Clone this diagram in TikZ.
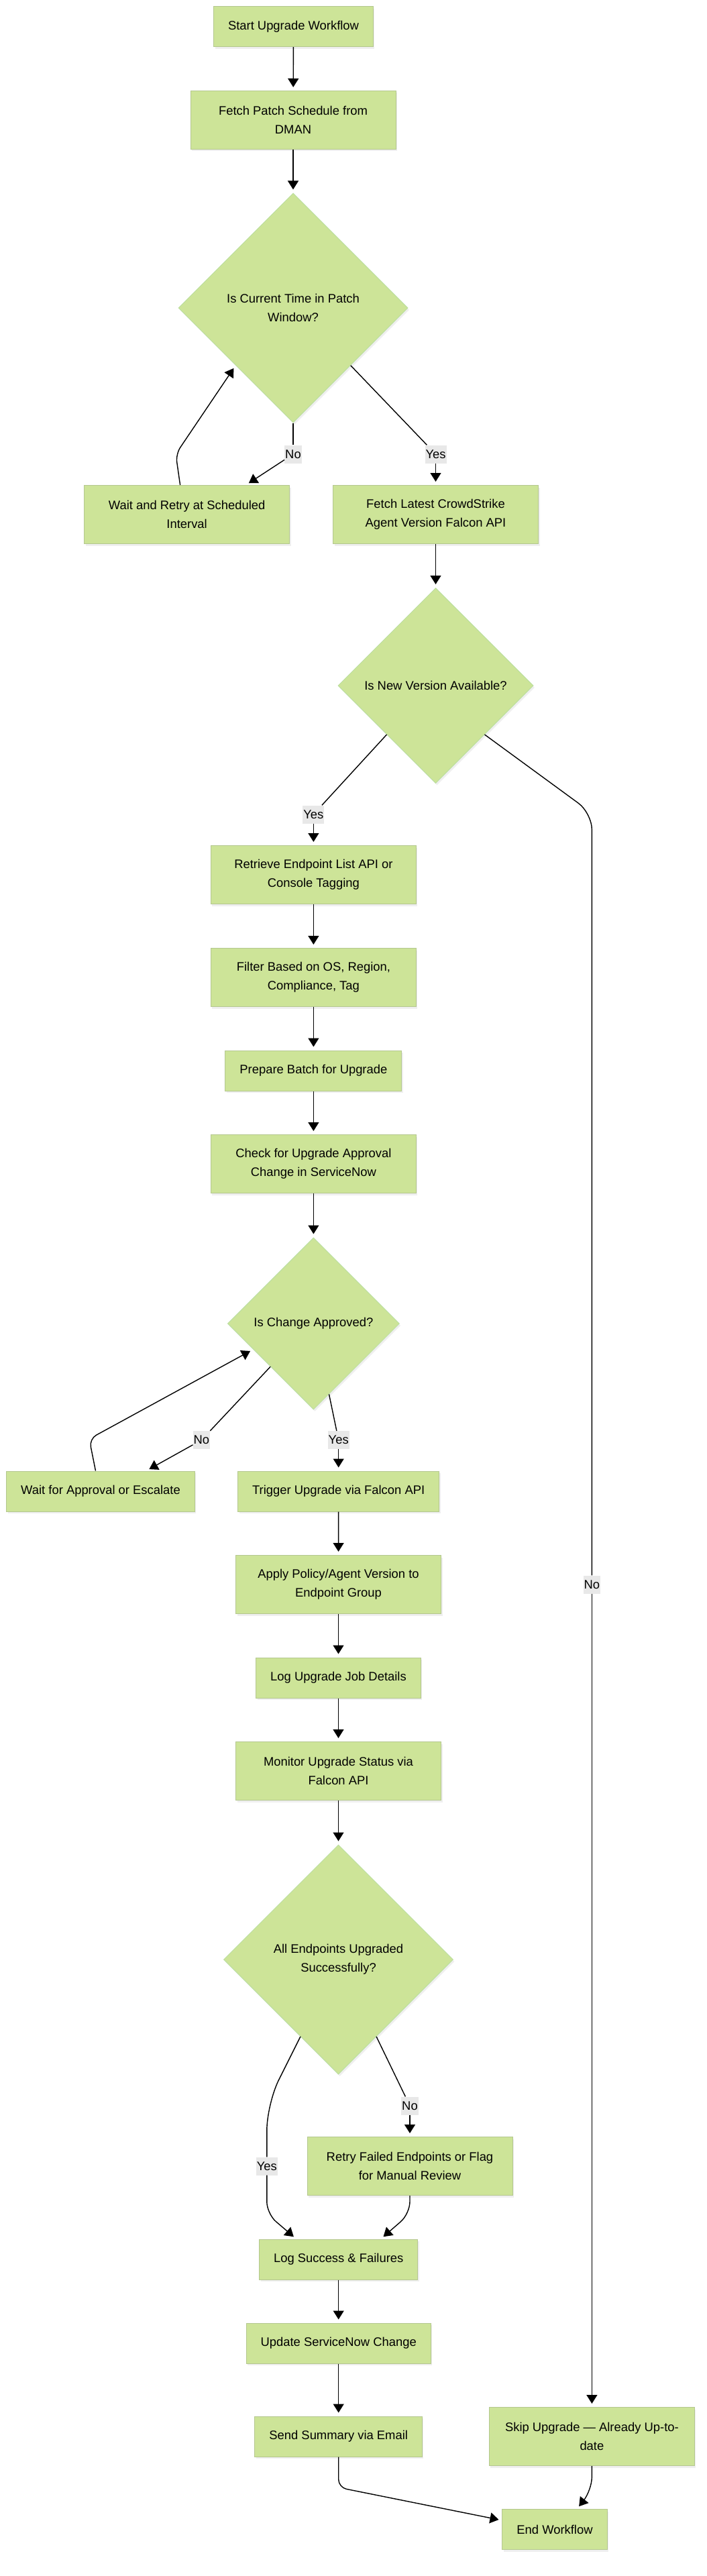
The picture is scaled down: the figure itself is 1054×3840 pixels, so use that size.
\documentclass[tikz,border=0pt]{standalone}
\usepackage{fontspec}
\setmainfont{Liberation Sans}
\usetikzlibrary{arrows.meta,shapes.geometric,shadows,calc}
\definecolor{vert}{HTML}{CDE498}
\definecolor{bord}{HTML}{B4C78F}
\definecolor{bordlos}{HTML}{BCDFA0}
\definecolor{etiq}{HTML}{E8E8E8}

\begin{document}
\begin{tikzpicture}[x=1pt, y=-1pt,
    boite/.style={draw=bord, line width=1pt, fill=vert, inner xsep=21.5pt, inner ysep=0pt,
        minimum height=60pt, align=center, font=\fontsize{18.4}{28}\selectfont,
        drop shadow={shadow xshift=2pt, shadow yshift=-3pt, opacity=0.12}},
    boite2/.style={boite, minimum width=306pt, minimum height=87pt},
    losange/.style={diamond, draw=bordlos, line width=1pt, fill=vert, inner sep=0pt,
        align=center, font=\fontsize{18.4}{28}\selectfont,
        drop shadow={shadow xshift=2pt, shadow yshift=-3pt, opacity=0.12}},
    etiq/.style={fill=etiq, inner xsep=1pt, inner ysep=0pt, minimum height=27pt,
        font=\fontsize{18.4}{28}\selectfont},
    ligne/.style={line width=1.4pt, draw=black},
    fleche/.style={ligne, -{Triangle[length=13pt,width=16pt]}, shorten >=5pt}]
    \useasboundingbox[fill=white] (0,0) rectangle (1054,3840);

    % Debut et fenetre de patch
    \node[boite] (debut) at (437.5,39.7) {Start Upgrade Workflow};
    \node[boite2] (planning) at (437,179) {Fetch Patch Schedule from\\DMAN};
    \node[losange, minimum size=342pt] (fenetre) at (437,459) {Is Current Time in Patch\\Window?};
    \node[boite2] (attente) at (278.6,767) {Wait and Retry at Scheduled\\Interval};
    \node[boite2] (version) at (649.5,767) {Fetch Latest CrowdStrike\\Agent Version Falcon API};

    % Nouvelle version
    \node[losange, minimum size=291pt] (nouvelle) at (649.5,1022) {Is New Version Available?};
    \node[boite2] (liste) at (467.4,1304) {Retrieve Endpoint List API or\\Console Tagging};
    \node[boite2] (filtre) at (467.4,1457) {Filter Based on OS, Region,\\Compliance, Tag};
    \node[boite] (lot) at (467.4,1596) {Prepare Batch for Upgrade};
    \node[boite2] (verif) at (467.4,1735) {Check for Upgrade Approval\\Change in ServiceNow};

    % Approbation
    \node[losange, minimum size=256pt] (approuve) at (467.4,1973) {Is Change Approved?};
    \node[boite] (escalade) at (150,2223) {Wait for Approval or Escalate};
    \node[boite] (declenche) at (504.7,2223) {Trigger Upgrade via Falcon API};
    \node[boite2] (politique) at (504.5,2362) {Apply Policy/Agent Version to\\Endpoint Group};
    \node[boite] (journal) at (504.5,2501) {Log Upgrade Job Details};
    \node[boite2] (suivi) at (504.5,2640) {Monitor Upgrade Status via\\Falcon API};

    % Resultat
    \node[losange, minimum size=342pt] (succes) at (504.5,2921) {All Endpoints Upgraded\\Successfully?};
    \node[boite2] (reprise) at (611,3229) {Retry Failed Endpoints or Flag\\for Manual Review};
    \node[boite] (bilan) at (504.7,3368) {Log Success \& Failures};
    \node[boite] (maj) at (504.7,3493) {Update ServiceNow Change};
    \node[boite] (courriel) at (504.7,3632) {Send Summary via Email};
    \node[boite2] (saut) at (882.4,3632) {Skip Upgrade — Already Up-to-\\date};
    \node[boite] (fin) at (827,3770.6) {End Workflow};

    % Etiquettes
    \node[etiq] (non1) at (437,677) {No};
    \node[etiq] (oui1) at (649.5,677) {Yes};
    \node[etiq] (oui2) at (467.4,1214) {Yes};
    \node[etiq] (non2) at (882.4,2362) {No};
    \node[etiq] (non3) at (300.4,2146.6) {No};
    \node[etiq] (oui3) at (504.7,2146.6) {Yes};
    \node[etiq] (oui4) at (397.8,3229) {Yes};
    \node[etiq] (non4) at (611,3139) {No};

    % Liaisons
    \draw[fleche] (debut) -- (planning);
    \draw[fleche] (planning) -- (fenetre);
    \draw[ligne] (fenetre.south) -- (non1);
    \draw[fleche] (non1) -- ([xshift=88pt]attente.north);
    \draw[fleche, rounded corners=12pt] ([xshift=-10pt]attente.north) -- (262,677) -- (fenetre.south west);
    \draw[ligne] (fenetre.south east) -- (oui1);
    \draw[fleche] (oui1) -- (version);
    \draw[fleche] (version) -- (nouvelle);
    \draw[ligne] (nouvelle.south west) -- (oui2);
    \draw[fleche] (oui2) -- (liste);
    \draw[ligne, rounded corners=25pt] (nouvelle.south east) -- (882.4,1212) -- (non2);
    \draw[fleche] (non2) -- (saut);
    \draw[fleche] (liste) -- (filtre);
    \draw[fleche] (filtre) -- (lot);
    \draw[fleche] (lot) -- (verif);
    \draw[fleche] (verif) -- (approuve);
    \draw[ligne] (approuve.south west) -- (non3);
    \draw[fleche] (non3) -- ([xshift=68pt]escalade.north);
    \draw[fleche, rounded corners=12pt] ([xshift=-7.5pt]escalade.north) -- (133,2145)
        -- ($(approuve.west)!0.6!(approuve.south west)$);
    \draw[ligne] ($(approuve.south)!0.18!(approuve.east)$) -- (oui3);
    \draw[fleche] (oui3) -- (declenche);
    \draw[fleche] (declenche) -- (politique);
    \draw[fleche] (politique) -- (journal);
    \draw[fleche] (journal) -- (suivi);
    \draw[fleche] (suivi) -- (succes);
    \draw[ligne, rounded corners=40pt] ($(succes.south)!0.33!(succes.west)$) -- (397.8,3136) -- (oui4);
    \draw[fleche, rounded corners=18pt] (oui4) -- (397.8,3300) -- ([xshift=-63pt]bilan.north);
    \draw[ligne] ($(succes.south)!0.33!(succes.east)$) -- (non4);
    \draw[fleche] (non4) -- (reprise);
    \draw[fleche, rounded corners=18pt] (reprise.south) -- (611,3300) -- ([xshift=63pt]bilan.north);
    \draw[fleche] (bilan) -- (maj);
    \draw[fleche] (maj) -- (courriel);
    \draw[fleche, rounded corners=12pt] (courriel.south) -- (504.7,3708) -- ([yshift=13.6pt]fin.west);
    \draw[fleche, rounded corners=20pt] (saut.south) -- (882.4,3712) -- ([xshift=33pt]fin.north);
\end{tikzpicture}
\end{document}
